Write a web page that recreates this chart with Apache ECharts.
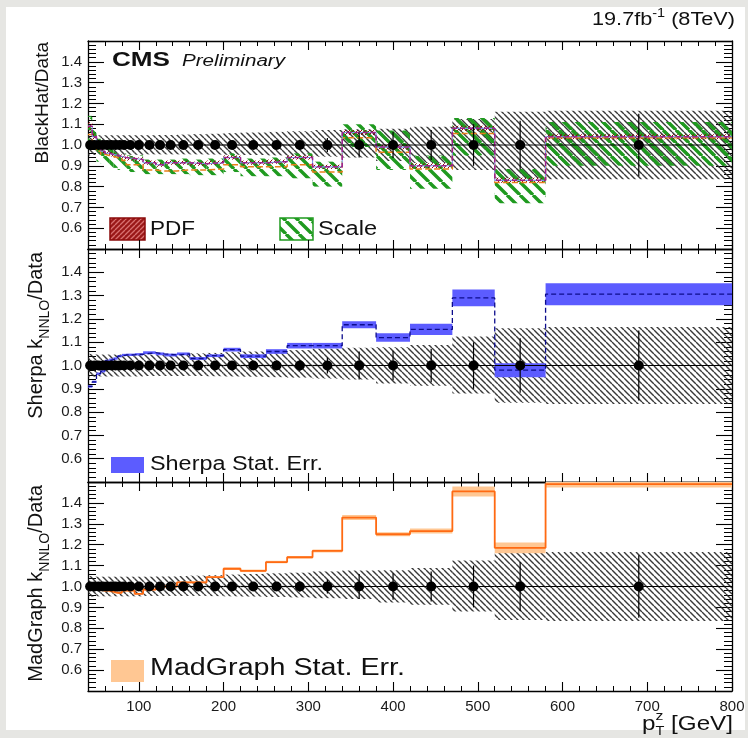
<!DOCTYPE html>
<html>
<head>
<meta charset="utf-8">
<script src="https://cdn.jsdelivr.net/npm/echarts@6/dist/echarts.min.js"></script>
<style>
  html, body { margin: 0; padding: 0; background: #e6e6e3; }
  #wrap { position: relative; width: 748px; height: 738px; background: #e6e6e3; }
  #sheet { position: absolute; left: 6px; top: 7px; width: 739px; height: 723px; background: #ffffff; }
  #chart { position: absolute; left: 0; top: 0; width: 748px; height: 738px; }
</style>
</head>
<body>
<div id="wrap"><div id="sheet"></div><div id="chart"></div></div>
<script>
// ---- Binning in Z transverse momentum (GeV) ----
const binEdges = [40, 45, 50, 55, 60, 65, 70, 75, 80, 85, 95, 105, 120, 130, 145, 160, 180, 200,
                  220, 250, 275, 305, 340, 380, 420, 470, 520, 580, 800];
const xTickLabels = [100, 200, 300, 400, 500, 600, 700, 800];
const yTickLabels = [0.6, 0.7, 0.8, 0.9, 1.0, 1.1, 1.2, 1.3, 1.4];

// ---- Measured data (ratio to itself) ----
const dataRatio = [1, 1, 1, 1, 1, 1, 1, 1, 1, 1, 1, 1, 1, 1, 1, 1, 1, 1, 1, 1, 1, 1, 1, 1, 1, 1, 1, 1];
const dataStatErr = [0.004, 0.004, 0.004, 0.004, 0.004, 0.004, 0.004, 0.004, 0.004, 0.005, 0.005, 0.006, 0.006,
                     0.006, 0.006, 0.008, 0.008, 0.010, 0.012, 0.016, 0.025, 0.034, 0.060, 0.063, 0.072,
                     0.100, 0.117, 0.150];
const dataSystUp = [0.050, 0.048, 0.047, 0.047, 0.047, 0.047, 0.047, 0.047, 0.047, 0.047, 0.047, 0.047, 0.048,
                    0.048, 0.050, 0.052, 0.054, 0.057, 0.060, 0.063, 0.066, 0.072, 0.076, 0.078, 0.088,
                    0.125, 0.160, 0.165];
const dataSystDown = [0.050, 0.048, 0.047, 0.047, 0.047, 0.047, 0.047, 0.047, 0.047, 0.047, 0.047, 0.045, 0.045,
                      0.045, 0.045, 0.045, 0.046, 0.047, 0.048, 0.050, 0.052, 0.056, 0.060, 0.077, 0.087,
                      0.120, 0.160, 0.165];

// ---- BlackHat / Data ----
const blackHat = [1.09, 1.04, 1.00, 0.97, 0.96, 0.955, 0.95, 0.945, 0.94, 0.935, 0.93, 0.915, 0.905, 0.915,
                  0.915, 0.91, 0.915, 0.94, 0.915, 0.92, 0.94, 0.895, 1.06, 0.99, 0.90, 1.08, 0.83, 1.04];
const blackHatPdfErr = [0.020, 0.015, 0.012, 0.010, 0.010, 0.010, 0.010, 0.010, 0.010, 0.010, 0.010, 0.010,
                        0.010, 0.010, 0.010, 0.010, 0.010, 0.010, 0.010, 0.010, 0.010, 0.010, 0.012, 0.012,
                        0.012, 0.012, 0.012, 0.012];
const blackHatAlt = [1.05, 0.99, 0.97, 0.955, 0.95, 0.945, 0.94, 0.935, 0.925, 0.905, 0.905, 0.88, 0.875, 0.875,
                     0.88, 0.88, 0.885, 0.905, 0.895, 0.895, 0.905, 0.87, 1.035, 0.965, 0.885, 1.055, 0.82, 1.035];
const blackHatScaleLo = [0.98, 0.95, 0.92, 0.91, 0.90, 0.89, 0.89, 0.88, 0.88, 0.87, 0.87, 0.86, 0.86, 0.86,
                         0.86, 0.855, 0.855, 0.87, 0.85, 0.85, 0.84, 0.80, 0.99, 0.88, 0.79, 0.95, 0.72, 0.90];
const blackHatScaleHi = [1.14, 1.08, 1.03, 1.00, 0.99, 0.98, 0.97, 0.96, 0.96, 0.95, 0.95, 0.93, 0.93, 0.93,
                         0.935, 0.93, 0.935, 0.96, 0.935, 0.94, 0.96, 0.92, 1.10, 1.07, 0.95, 1.13, 0.885, 1.11];

// ---- Sherpa x k_NNLO / Data ----
const sherpa = [0.91, 0.93, 0.965, 0.975, 1.02, 1.025, 1.03, 1.04, 1.045, 1.046, 1.048, 1.055, 1.05, 1.045,
                1.05, 1.03, 1.042, 1.068, 1.04, 1.06, 1.085, 1.085, 1.175, 1.12, 1.155, 1.29, 0.98, 1.306];
const sherpaStatErr = [0.005, 0.005, 0.005, 0.005, 0.005, 0.005, 0.005, 0.005, 0.005, 0.005, 0.005, 0.006, 0.006,
                       0.006, 0.006, 0.006, 0.006, 0.008, 0.008, 0.010, 0.012, 0.012, 0.015, 0.018, 0.024,
                       0.036, 0.030, 0.047];

// ---- MadGraph x k_NNLO / Data ----
const madGraph = [0.99, 0.99, 0.985, 0.98, 0.98, 0.975, 0.97, 0.97, 0.98, 0.98, 0.965, 0.985, 1.00, 1.00,
                  1.02, 1.02, 1.045, 1.085, 1.075, 1.117, 1.14, 1.17, 1.33, 1.25, 1.265, 1.455, 1.185, 1.49];
const madGraphStatErr = [0.003, 0.003, 0.003, 0.003, 0.003, 0.003, 0.003, 0.003, 0.003, 0.003, 0.003, 0.004,
                         0.004, 0.004, 0.004, 0.005, 0.005, 0.006, 0.006, 0.006, 0.006, 0.007, 0.012, 0.010,
                         0.012, 0.024, 0.026, 0.016];

// ---- Layout ----
const FONT = '"Liberation Sans", Arial, Helvetica, sans-serif';
const PLOT_LEFT = 88, PLOT_WIDTH = 644;
const PANELS = [{ top: 41, height: 208 }, { top: 249, height: 233 }, { top: 482, height: 209 }];

// Hatch fill tiles
function hatch(size, width, color, dir, bg) {
  const c = document.createElement('canvas');
  c.width = c.height = size;
  const g = c.getContext('2d');
  if (bg) { g.fillStyle = bg; g.fillRect(0, 0, size, size); }
  g.strokeStyle = color;
  g.lineWidth = width;
  g.beginPath();
  for (let k = -1; k <= 1; k++) {
    const o = k * size;
    if (dir === 'back') { g.moveTo(o, 0); g.lineTo(o + size, size); }
    else { g.moveTo(o + size, 0); g.lineTo(o, size); }
  }
  g.stroke();
  return { image: c, repeat: 'repeat' };
}
const grayHatch = hatch(6, 1.4, 'rgba(35,35,35,0.9)', 'back');
const greenHatch = hatch(13, 3.4, '#1f9a1f', 'back');
const pdfHatch = hatch(4, 1, '#8b0a0a', 'fwd');
const pdfLegendHatch = hatch(5, 1.3, '#d87070', 'fwd', '#9a1818');

// ---- Axes ----
function xAxesFor(g) {
  const base = { gridIndex: g, type: 'value', min: 40, max: 800, splitLine: { show: false } };
  const axes = [];
  ['bottom', 'top'].forEach(pos => {
    const withLabels = g === 2 && pos === 'bottom';
    axes.push(Object.assign({}, base, {
      position: pos,
      axisLine: { show: true, onZero: false, lineStyle: { color: '#000', width: 1.3 } },
      axisTick: { show: true, inside: true, length: 9, customValues: xTickLabels,
                  lineStyle: { color: '#000', width: 1.1 } },
      axisLabel: withLabels
        ? { show: true, customValues: xTickLabels, margin: 8, color: '#1a1a1a', fontSize: 15, fontFamily: FONT }
        : { show: false }
    }));
    axes.push(Object.assign({}, base, {
      position: pos, interval: 20,
      axisLine: { show: false, onZero: false },
      axisTick: { show: true, inside: true, length: 5, lineStyle: { color: '#000', width: 1 } },
      axisLabel: { show: false }
    }));
  });
  return axes;
}
function yAxesFor(g) {
  return ['left', 'right'].map(pos => ({
    gridIndex: g, type: 'value', position: pos, min: 0.5, max: 1.5, interval: 0.1,
    axisLine: { show: true, onZero: false, lineStyle: { color: '#000', width: 1.3 } },
    axisTick: { show: true, inside: true, length: 16, lineStyle: { color: '#000', width: 1.1 } },
    minorTick: { show: true, splitNumber: 5, length: 8, lineStyle: { color: '#000', width: 1 } },
    splitLine: { show: false }, minorSplitLine: { show: false },
    axisLabel: pos === 'left'
      ? { show: true, customValues: yTickLabels, formatter: v => Number(v).toFixed(1), margin: 6,
          color: '#1a1a1a', fontSize: 15, fontFamily: FONT }
      : { show: false }
  }));
}

// ---- Series builders ----
const binRows = binEdges.slice(0, -1).map((lo, i) => [lo, binEdges[i + 1], i]);

function bandSeries(g, lo, hi, fill, z) {
  return {
    type: 'custom', xAxisIndex: g * 4, yAxisIndex: g * 2, z, silent: true, clip: true,
    data: binRows.map(([a, b, i]) => [a, b, lo[i], hi[i]]),
    encode: { x: [0, 1], y: [2, 3] },
    renderItem: (params, api) => {
      const p0 = api.coord([api.value(0), api.value(3)]);
      const p1 = api.coord([api.value(1), api.value(2)]);
      const cs = params.coordSys;
      const r = echarts.graphic.clipRectByRect(
        { x: p0[0], y: p0[1], width: p1[0] - p0[0], height: p1[1] - p0[1] },
        { x: cs.x, y: cs.y, width: cs.width, height: cs.height });
      return r ? { type: 'rect', shape: r, style: { fill } } : null;
    }
  };
}
function stepSeries(g, vals, color, width, dash, z) {
  return {
    type: 'line', xAxisIndex: g * 4, yAxisIndex: g * 2, step: 'end', z, silent: true,
    symbol: 'none', showSymbol: false, clip: true,
    data: binEdges.map((e, i) => [e, vals[Math.min(i, vals.length - 1)]]),
    lineStyle: { color, width, type: dash }
  };
}
function dataSeries(g) {
  return [
    {
      type: 'custom', xAxisIndex: g * 4, yAxisIndex: g * 2, z: 8, silent: true, clip: true,
      data: binRows.map(([a, b, i]) => [a, b, dataRatio[i], dataStatErr[i]]),
      encode: { x: [0, 1], y: 2 },
      renderItem: (params, api) => {
        const a = api.value(0), b = api.value(1), y = api.value(2), e = api.value(3);
        const l = api.coord([a, y]), r = api.coord([b, y]);
        const c = (a + b) / 2;
        const t = api.coord([c, y + e]), d = api.coord([c, y - e]);
        const st = { stroke: '#000', lineWidth: 1.2 };
        return { type: 'group', children: [
          { type: 'line', shape: { x1: l[0], y1: l[1], x2: r[0], y2: r[1] }, style: st },
          { type: 'line', shape: { x1: t[0], y1: t[1], x2: d[0], y2: d[1] }, style: st }
        ] };
      }
    },
    {
      type: 'scatter', xAxisIndex: g * 4, yAxisIndex: g * 2, z: 9, silent: true,
      symbol: 'circle', symbolSize: 10, itemStyle: { color: '#000', opacity: 1 },
      data: binRows.map(([a, b, i]) => [(a + b) / 2, dataRatio[i]])
    }
  ];
}
const lower = (v, e) => v.map((x, i) => x - e[i]);
const upper = (v, e) => v.map((x, i) => x + e[i]);
const systLo = dataRatio.map((x, i) => x - dataSystDown[i]);
const systHi = dataRatio.map((x, i) => x + dataSystUp[i]);

const series = [
  // BlackHat panel
  bandSeries(0, systLo, systHi, grayHatch, 1),
  bandSeries(0, blackHatScaleLo, blackHatScaleHi, greenHatch, 2),
  bandSeries(0, lower(blackHat, blackHatPdfErr), upper(blackHat, blackHatPdfErr), pdfHatch, 3),
  stepSeries(0, blackHatAlt, '#e8801a', 1.5, [6, 3], 4),
  stepSeries(0, blackHat, '#7a9ae6', 1.1, 'solid', 5),
  stepSeries(0, blackHat, '#a0208c', 1.5, [5, 3], 6),
  ...dataSeries(0),
  // Sherpa panel
  bandSeries(1, systLo, systHi, grayHatch, 1),
  bandSeries(1, lower(sherpa, sherpaStatErr), upper(sherpa, sherpaStatErr), '#5c5cff', 3),
  stepSeries(1, sherpa, '#0c0c8c', 1.3, [5, 3], 5),
  ...dataSeries(1),
  // MadGraph panel
  bandSeries(2, systLo, systHi, grayHatch, 1),
  bandSeries(2, lower(madGraph, madGraphStatErr), upper(madGraph, madGraphStatErr), '#ffc793', 3),
  stepSeries(2, madGraph, '#ff6a12', 1.8, 'solid', 5),
  ...dataSeries(2)
];

// ---- Text helpers ----
const mctx = document.createElement('canvas').getContext('2d');
function measure(t, p) {
  mctx.font = `${p.style || 'normal'} ${p.weight || 'normal'} ${p.size}px ${FONT}`;
  return mctx.measureText(t).width;
}
// Lays out text pieces along a baseline; supports sub/superscripts and rotation.
function textRow(x, y, parts, opts) {
  opts = opts || {};
  let total = 0;
  const widths = parts.map(p => {
    const w = measure(p.t, p);
    if (p.adv !== false) total += w;
    return w;
  });
  let cx = opts.align === 'right' ? -total : 0;
  const children = parts.map((p, i) => {
    const el = {
      type: 'text', x: cx, y: p.dy || 0,
      style: { text: p.t, fontSize: p.size, fontFamily: FONT, fontWeight: p.weight || 'normal',
               fontStyle: p.style || 'normal', fill: p.color || '#111', align: 'left', verticalAlign: 'middle' }
    };
    if (p.adv !== false) cx += widths[i];
    return el;
  });
  const sx = opts.w ? opts.w / total : 1;
  return { type: 'group', x, y, rotation: opts.rotation || 0, scaleX: sx, children, silent: true };
}

const graphics = [
  textRow(735, 20, [{ t: '19.7fb', size: 18 }, { t: '-1', size: 12, dy: -6 }, { t: ' (8TeV)', size: 18 }],
          { align: 'right', w: 143 }),
  textRow(112, 60, [{ t: 'CMS', size: 20, weight: 'bold' }], { w: 58 }),
  textRow(182, 62, [{ t: 'Preliminary', size: 16, style: 'italic' }], { w: 103 }),
  // axis titles
  textRow(43, 42, [{ t: 'BlackHat/Data', size: 19 }], { align: 'right', rotation: Math.PI / 2 }),
  textRow(36, 252, [{ t: 'Sherpa k', size: 20 }, { t: 'NNLO', size: 14, dy: 9 }, { t: '/Data', size: 20 }],
          { align: 'right', rotation: Math.PI / 2 }),
  textRow(36, 485, [{ t: 'MadGraph k', size: 20 }, { t: 'NNLO', size: 14, dy: 9 }, { t: '/Data', size: 20 }],
          { align: 'right', rotation: Math.PI / 2 }),
  textRow(733, 724, [{ t: 'p', size: 20 }, { t: 'z', size: 13, dy: -8, adv: false }, { t: 'T', size: 12, dy: 8 },
                     { t: ' [GeV]', size: 20 }], { align: 'right', w: 91 }),
  // legends
  { type: 'rect', shape: { x: 110, y: 218, width: 35, height: 22 }, style: { fill: pdfLegendHatch, stroke: '#8b0a0a', lineWidth: 1.5 } },
  textRow(150, 229, [{ t: 'PDF', size: 20 }], { w: 45 }),
  { type: 'rect', shape: { x: 280, y: 218, width: 33, height: 22 }, style: { fill: greenHatch, stroke: '#1f9a1f', lineWidth: 1.5 } },
  textRow(318, 229, [{ t: 'Scale', size: 20 }], { w: 59 }),
  { type: 'rect', shape: { x: 111, y: 457, width: 33, height: 16 }, style: { fill: '#5c5cff' } },
  textRow(150, 464, [{ t: 'Sherpa Stat. Err.', size: 20 }], { w: 173 }),
  { type: 'rect', shape: { x: 111, y: 660, width: 33, height: 22 }, style: { fill: '#ffc793' } },
  textRow(150, 669, [{ t: 'MadGraph Stat. Err.', size: 23 }], { w: 255 })
];

const chart = echarts.init(document.getElementById('chart'), null, { renderer: 'canvas' });
chart.setOption({
  animation: false,
  backgroundColor: 'transparent',
  grid: PANELS.map(p => ({ left: PLOT_LEFT, width: PLOT_WIDTH, top: p.top, height: p.height, containLabel: false })),
  xAxis: [0, 1, 2].flatMap(xAxesFor),
  yAxis: [0, 1, 2].flatMap(yAxesFor),
  series,
  graphic: graphics
});
</script>
</body>
</html>
